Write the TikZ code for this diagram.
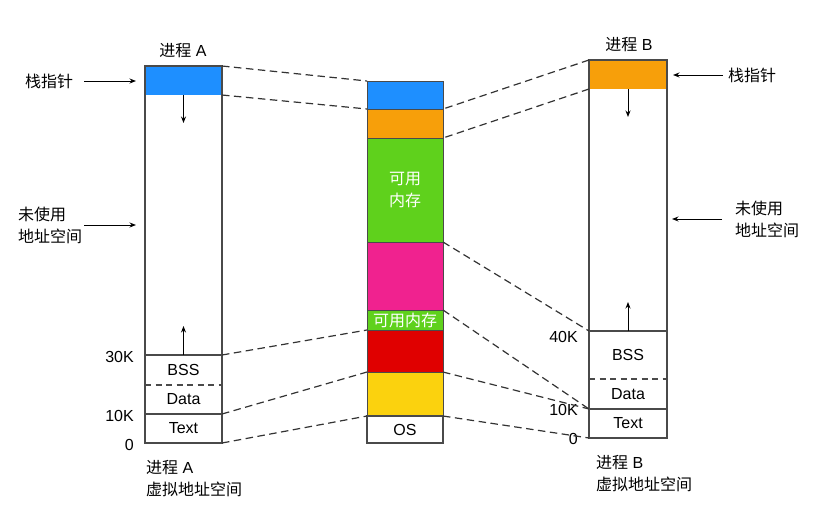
\documentclass[tikz,border=0pt]{standalone}
\usepackage{fontspec}
\setmainfont{Liberation Sans}
\newfontfamily\cjk{Noto Sans CJK SC}
\usetikzlibrary{arrows.meta}
\definecolor{cblue}{HTML}{1E8FFF}
\definecolor{corange}{HTML}{F79F0A}
\definecolor{cgreen}{HTML}{5FD11C}
\definecolor{cpink}{HTML}{F0228F}
\definecolor{cred}{HTML}{E00000}
\definecolor{cyellow}{HTML}{FBD20E}
\definecolor{frameC}{HTML}{4A4A4A}
\definecolor{dashC}{HTML}{333333}
\begin{document}
\begin{tikzpicture}[x=1pt,y=-1pt,
  font=\fontsize{16}{22}\selectfont,
  seg/.style={anchor=north west,inner sep=0pt,outer sep=0pt},
  asec/.style={seg,minimum width=77pt},
  msec/.style={seg,minimum width=76pt,draw=frameC,line width=0.8pt},
  bsec/.style={seg,minimum width=78pt},
  frame/.style={draw=frameC,line width=1.3pt},
  sepdash/.style={draw=frameC,line width=1.1pt,dash pattern=on 6pt off 4.5pt},
  link/.style={draw=dashC,line width=1.2pt,dash pattern=on 7.5pt off 4.5pt},
  arr/.style={draw=black,line width=1pt,-{Stealth[length=6.5pt,width=5pt]}},
  lab/.style={inner sep=0pt,align=left}]
\useasboundingbox (0,0) rectangle (813,507);

% ---------- Process A ----------
\node[asec,minimum height=29pt,fill=cblue] (ablue) at (145,66) {};
\node[asec,minimum height=260pt] (afree) at (145,95) {};
\node[asec,minimum height=30pt] (abss) at (145,355) {BSS};
\node[asec,minimum height=29pt] (adata) at (145,385) {Data};
\node[asec,minimum height=29pt] (atext) at (145,414) {Text};
\draw[frame] (ablue.north west) rectangle (atext.south east);
\draw[frame] (abss.north west) -- (abss.north east);
\draw[sepdash] (adata.north west) -- (adata.north east);
\draw[frame] (atext.north west) -- (atext.north east);

\coordinate (adown) at (183,123);
\coordinate (aup) at (183,326);
\draw[arr] (ablue.south) -- (ablue.south |- adown);
\draw[arr] (abss.north) -- (abss.north |- aup);

\node (atitle) at (183,51) {{\cjk 进程} A};
\node[lab,anchor=east] (a30) at (134,357) {30K};
\node[lab,anchor=east] (a10) at (134,416) {10K};
\node[lab,anchor=east] (a0) at (134,445) {0};
\node[lab,anchor=west] (acap) at (146,479) {{\cjk 进程} A\\{\cjk 虚拟地址空间}};

\node[lab,anchor=west] (asp) at (25,81) {\cjk 栈指针};
\draw[arr,shorten <=11pt,shorten >=9pt] (asp.east) -- (asp.east -| ablue.west);
\node[lab,anchor=west] (aun) at (18,225) {\cjk 未使用\\\cjk 地址空间};
\draw[arr,shorten <=2pt,shorten >=9pt] (aun.east) -- (aun.east -| afree.west);

% ---------- Physical memory ----------
\node[msec,minimum height=28pt,fill=cblue] (mblue) at (367,81) {};
\node[msec,minimum height=29pt,fill=corange] (mor) at (367,109) {};
\node[msec,minimum height=104pt,fill=cgreen,text=white,align=center] (mgreen) at (367,138) {\cjk 可用\\\cjk 内存};
\node[msec,minimum height=68pt,fill=cpink] (mpink) at (367,242) {};
\node[msec,minimum height=20pt,fill=cgreen,text=white] (mgreen2) at (367,310) {\cjk 可用内存};
\node[msec,minimum height=42pt,fill=cred] (mred) at (367,330) {};
\node[msec,minimum height=44pt,fill=cyellow] (myellow) at (367,372) {};
\node[msec,minimum height=27pt,fill=white,line width=1.2pt] (mos) at (367,416) {OS};

% ---------- Process B ----------
\node[bsec,minimum height=29pt,fill=corange] (bor) at (589,60) {};
\node[bsec,minimum height=242pt] (bfree) at (589,89) {};
\node[bsec,minimum height=48pt] (bbss) at (589,331) {BSS};
\node[bsec,minimum height=30pt] (bdata) at (589,379) {Data};
\node[bsec,minimum height=29pt] (btext) at (589,409) {Text};
\draw[frame] (bor.north west) rectangle (btext.south east);
\draw[frame] (bbss.north west) -- (bbss.north east);
\draw[sepdash] (bdata.north west) -- (bdata.north east);
\draw[frame] (btext.north west) -- (btext.north east);

\coordinate (bdown) at (629,117);
\coordinate (bup) at (629,302);
\draw[arr] (bor.south) -- (bor.south |- bdown);
\draw[arr] (bbss.north) -- (bbss.north |- bup);

\node (btitle) at (629,45) {{\cjk 进程} B};
\node[lab,anchor=east] (b40) at (578,337) {40K};
\node[lab,anchor=east] (b10) at (578,410) {10K};
\node[lab,anchor=east] (b0) at (578,439) {0};
\node[lab,anchor=west] (bcap) at (596,474) {{\cjk 进程} B\\{\cjk 虚拟地址空间}};

\node[lab,anchor=west] (bsp) at (728,75) {\cjk 栈指针};
\draw[arr,shorten <=5pt,shorten >=6pt] (bsp.west) -- (bsp.west -| bor.east);
\node[lab,anchor=west] (bun) at (735,219) {\cjk 未使用\\\cjk 地址空间};
\draw[arr,shorten <=13pt,shorten >=5pt] (bun.west) -- (bun.west -| bfree.east);

% ---------- Mapping lines ----------
\draw[link] (ablue.north east) -- (mblue.north west);
\draw[link] (ablue.south east) -- (mor.north west);
\draw[link] (abss.north east) -- (mred.north west);
\draw[link] (atext.north east) -- (myellow.north west);
\draw[link] (atext.south east) -- (mos.north west);
\draw[link] (bor.north west) -- (mor.north east);
\draw[link] (bor.south west) -- (mgreen.north east);
\draw[link] (mpink.north east) -- (bbss.north west);
\draw[link] (mpink.south east) -- (btext.north west);
\draw[link] (myellow.north east) -- (btext.north west);
\draw[link] (myellow.south east) -- (btext.south west);
\end{tikzpicture}
\end{document}
